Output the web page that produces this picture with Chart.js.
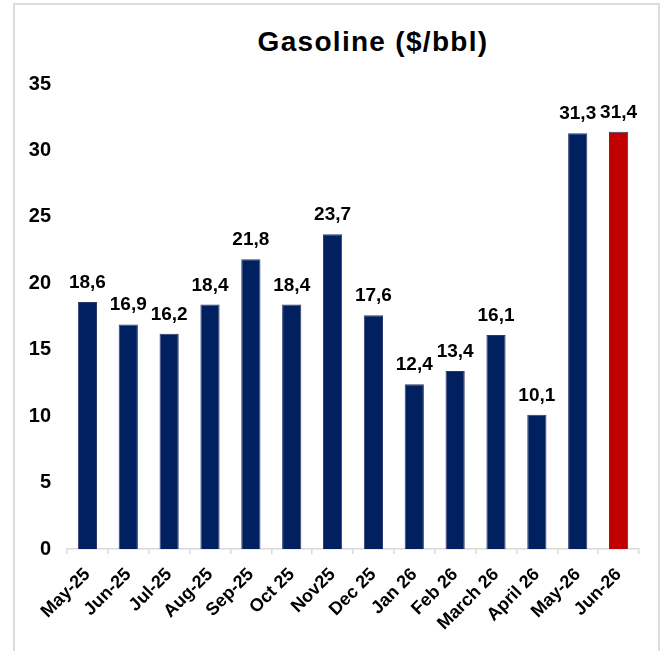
<!DOCTYPE html>
<html>
<head>
<meta charset="utf-8">
<script src="https://cdn.jsdelivr.net/npm/chart.js@4/dist/chart.umd.min.js"></script>
<style>
  html, body { margin:0; padding:0; background:#fff; }
  #wrap { position:relative; width:669px; height:651px; overflow:hidden; }
  #frame { position:absolute; left:13px; top:3px; width:647px; height:660px; border:2px solid #dcdcdc; box-sizing:border-box; pointer-events:none; }
  #title { position:absolute; left:173px; width:400px; top:28px; text-align:center; font:bold 28px "Liberation Sans", Arial, sans-serif; line-height:28px; letter-spacing:1.3px; color:#000; }
  canvas { position:absolute; left:0; top:0; }
</style>
</head>
<body>
<div id="wrap">
  <div id="frame"></div>
  <div id="title">Gasoline ($/bbl)</div>
  <canvas id="c" width="669" height="651"></canvas>
</div>
<script>
const categories = ["May-25","Jun-25","Jul-25","Aug-25","Sep-25","Oct 25","Nov25","Dec 25","Jan 26","Feb 26","March 26","April 26","May-26","Jun-26"];
const values = [18.6, 16.9, 16.2, 18.4, 21.8, 18.4, 23.7, 17.6, 12.4, 13.4, 16.1, 10.1, 31.3, 31.4];
const barColors = ["#002060","#002060","#002060","#002060","#002060","#002060","#002060","#002060","#002060","#002060","#002060","#002060","#002060","#C00000"];
const yTicks = [0, 5, 10, 15, 20, 25, 30, 35];

const FONT = '"Liberation Sans", Arial, sans-serif';

const valueLabels = {
  id: 'valueLabels',
  afterDatasetsDraw(chart) {
    const ctx = chart.ctx;
    const meta = chart.getDatasetMeta(0);
    ctx.save();
    ctx.font = 'bold 19px ' + FONT;
    ctx.fillStyle = '#000';
    ctx.textAlign = 'center';
    ctx.textBaseline = 'alphabetic';
    meta.data.forEach((bar, i) => {
      const txt = values[i].toFixed(1).replace('.', ',');
      ctx.fillText(txt, bar.x, bar.y - 14);
    });
    ctx.restore();
  }
};

new Chart(document.getElementById('c'), {
  type: 'bar',
  data: {
    labels: categories,
    datasets: [{
      data: values,
      backgroundColor: barColors,
      borderColor: "#2b3a67",
      borderWidth: 1,
      barPercentage: 0.47,
      categoryPercentage: 1.0
    }]
  },
  options: {
    responsive: false,
    animation: false,
    layout: { padding: { top: 84, left: 0, right: 30, bottom: 0 } },
    plugins: {
      legend: { display: false },
      title: { display: false },
      tooltip: { enabled: false }
    },
    scales: {
      y: {
        min: 0, max: 35,
        afterFit: (s) => { s.width = 67; },
        afterBuildTicks: (s) => { s.ticks = yTicks.map(v => ({ value: v })); },
        grid: { display: false, drawTicks: false },
        border: { display: false },
        ticks: {
          padding: 16,
          color: '#000',
          font: { family: FONT, size: 20, weight: 'bold' }
        }
      },
      x: {
        afterFit: (s) => { s.height = 102; },
        grid: { display: true, drawOnChartArea: false, drawTicks: true, tickLength: 5, color: '#d9d9d9', lineWidth: 1.5, offset: true },
        border: { display: true, color: '#d9d9d9', width: 1.5 },
        ticks: {
          minRotation: 45, maxRotation: 45,
          autoSkip: false,
          padding: 10,
          color: '#000',
          font: { family: FONT, size: 18, weight: 'bold' }
        }
      }
    }
  },
  plugins: [valueLabels]
});
</script>
</body>
</html>
